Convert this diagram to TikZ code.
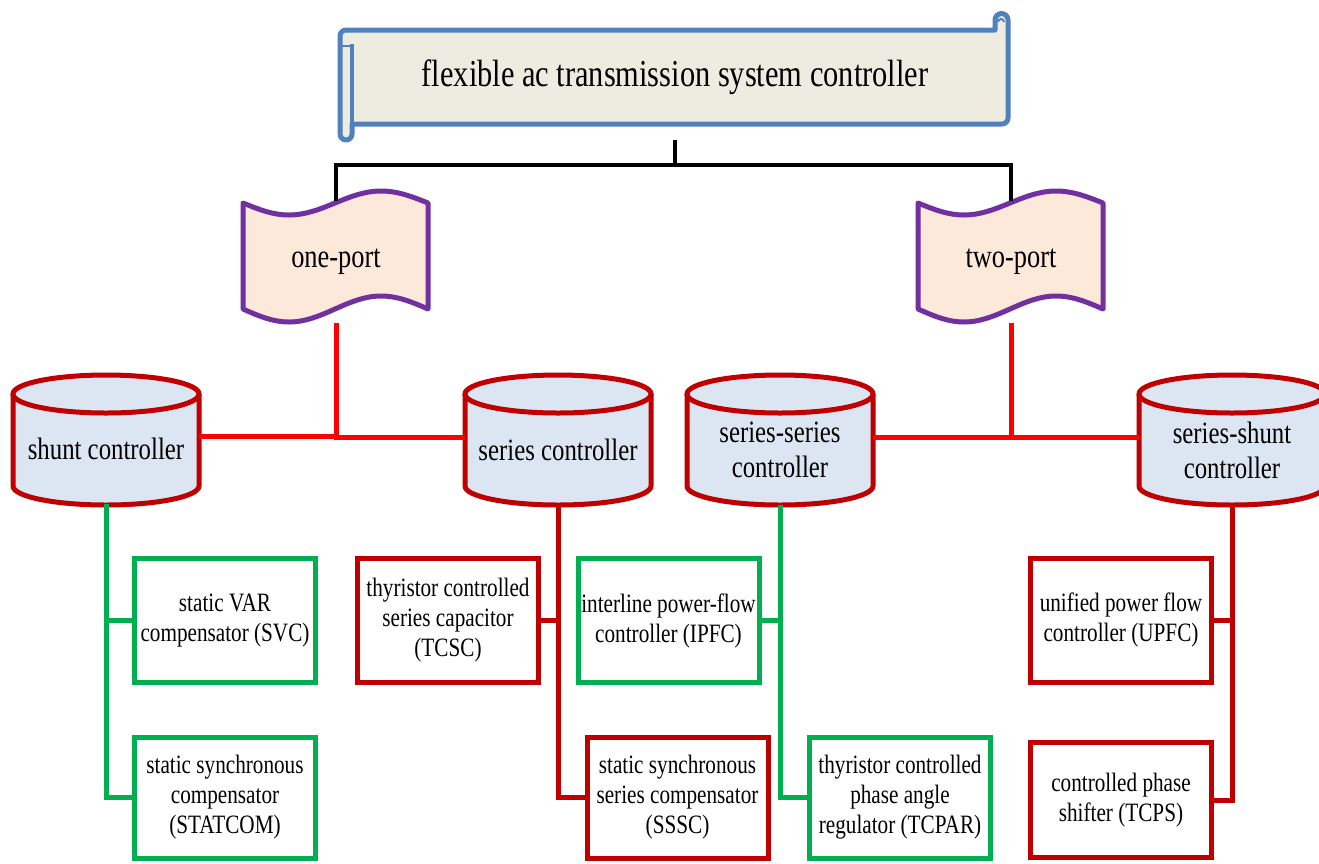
\documentclass[tikz,border=0pt]{standalone}
\usepackage{fontspec}
\setmainfont{Liberation Serif}[FakeStretch=0.8]
\definecolor{fgreen}{HTML}{00B050}
\definecolor{fdred}{HTML}{C00000}
\definecolor{fred}{HTML}{FF0000}
\definecolor{cylfill}{HTML}{DCE6F2}
\definecolor{portfill}{HTML}{FDE9D9}
\definecolor{portline}{HTML}{7030A0}
\definecolor{scrollfill}{HTML}{EEEBE0}
\definecolor{scrollline}{HTML}{4F81BD}
\newcommand\boxfont{\fontsize{26.5}{30}\selectfont}
\newcommand\cylfont{\fontsize{31}{35}\selectfont}
\newcommand\portfont{\fontsize{33}{38}\selectfont}
\newcommand\titlefont{\fontsize{38}{44}\selectfont}
\tikzset{
  box/.style={draw, line width=5pt, fill=white, minimum width=181pt, minimum height=124pt, align=center, inner sep=1pt, font=\boxfont},
  gbox/.style={box, draw=fgreen},
  rbox/.style={box, draw=fdred},
  cyltext/.style={minimum width=186pt, minimum height=110pt, inner sep=0pt, align=center, font=\cylfont},
  porttext/.style={minimum width=185pt, minimum height=122pt, inner sep=0pt, font=\portfont},
  cylline/.style={draw=fdred, line width=5pt},
  portshape/.style={draw=portline, fill=portfill, line width=5pt, line join=round},
  blackline/.style={draw=black, line width=4pt},
  redline/.style={draw=fred, line width=5pt},
  greenline/.style={draw=fgreen, line width=5pt},
  dredline/.style={draw=fdred, line width=5pt},
}
\begin{document}
\begin{tikzpicture}[x=1pt,y=1pt]
\useasboundingbox (0,0) rectangle (1319,-863);
\clip (0,0) rectangle (1319,-863);
\fill[white] (0,0) rectangle (1319,-863);

% title scroll
\draw[draw=scrollline, fill=scrollfill, line width=5pt, line join=round]
  (352,-30) -- (995,-30) -- (995,-20) arc[start angle=180, end angle=0, radius=6.5pt]
  -- (1008,-118) arc[start angle=0, end angle=-90, radius=6pt]
  -- (352,-124) -- (352,-134) arc[start angle=0, end angle=-180, radius=6pt]
  -- (340,-36) arc[start angle=180, end angle=90, radius=6pt] -- cycle;
\draw[draw=scrollline, line width=4pt] (352,-44) -- (352,-124);
\draw[draw=scrollline, line width=2.5pt] (340,-46) -- (352,-46);
\draw[draw=scrollline, line width=2pt] (998,-22) arc[start angle=180, end angle=0, radius=3pt];
\node[font=\titlefont, minimum width=660pt, minimum height=126pt, inner sep=0pt] (title) at (675,-77) {flexible ac transmission system controller};

% port shapes
\foreach \dx in {0,675} {
  \draw[portshape] (243+\dx,-203) sin (289+\dx,-215) cos (335+\dx,-203) sin (381+\dx,-191) cos (428+\dx,-203)
    -- (428+\dx,-309) sin (381+\dx,-296) cos (335+\dx,-309) sin (289+\dx,-322) cos (243+\dx,-309) -- cycle;
}
\node[porttext] (oneport) at (336,-262) {one-port};
\node[porttext] (twoport) at (1011,-262) {two-port};

% cylinders
\foreach \cx in {106,558,780,1232} {
  \fill[cylfill] (\cx-93,-394) -- (\cx-93,-486) arc[start angle=180, end angle=360, x radius=93pt, y radius=19pt]
    -- (\cx+93,-394) arc[start angle=0, end angle=180, x radius=93pt, y radius=19pt] -- cycle;
  \draw[cylline] (\cx-93,-394) -- (\cx-93,-486) arc[start angle=180, end angle=360, x radius=93pt, y radius=19pt] -- (\cx+93,-394);
  \draw[cylline] (\cx,-394) ellipse[x radius=93pt, y radius=19pt];
}
\node[cyltext] (shunt) at (106,-449) {shunt controller};
\node[cyltext] (series) at (558,-450) {series controller};
\node[cyltext] (serser) at (780,-450) {series-series\\controller};
\node[cyltext] (sershunt) at (1232,-450) {series-shunt\\controller};

% boxes
\node[gbox] (svc) at (225,-620.5) {static VAR\\compensator (SVC)};
\node[gbox, minimum height=121pt] (statcom) at (225,-797.5) {static synchronous\\compensator\\(STATCOM)};
\node[rbox] (tcsc) at (448,-620) {thyristor controlled\\series capacitor\\(TCSC)};
\node[rbox, minimum height=121pt] (sssc) at (677.5,-797.5) {static synchronous\\series compensator\\(SSSC)};
\node[gbox] (ipfc) at (668.5,-620.5) {interline power-flow\\controller (IPFC)};
\node[gbox, minimum height=121pt] (tcpar) at (900,-797.5) {thyristor controlled\\phase angle\\regulator (TCPAR)};
\node[rbox] (upfc) at (1121,-620) {unified power flow\\controller (UPFC)};
\node[rbox, minimum height=115pt] (tcps) at (1121,-800) {controlled phase\\shifter (TCPS)};

% connectors
\coordinate (bus) at (675,-165);
\draw[blackline] (title.south) -- (bus);
\draw[blackline] (bus) -| (oneport.north);
\draw[blackline] (bus) -| (twoport.north);

\draw[redline] (oneport.south) |- ([yshift=13pt]shunt.east);
\draw[redline] (oneport.south) |- ([yshift=13pt]series.west);
\draw[redline] (twoport.south) |- ([yshift=13pt]serser.east);
\draw[redline] (twoport.south) |- ([yshift=13pt]sershunt.west);

\draw[greenline] (shunt.south) |- (svc.west);
\draw[greenline] (shunt.south) |- (statcom.west);
\draw[dredline] (series.south) |- (tcsc.east);
\draw[dredline] (series.south) |- (sssc.west);
\draw[greenline] (serser.south) |- (ipfc.east);
\draw[greenline] (serser.south) |- (tcpar.west);
\draw[dredline] (sershunt.south) |- (upfc.east);
\draw[dredline] (sershunt.south) |- (tcps.east);
\end{tikzpicture}
\end{document}
